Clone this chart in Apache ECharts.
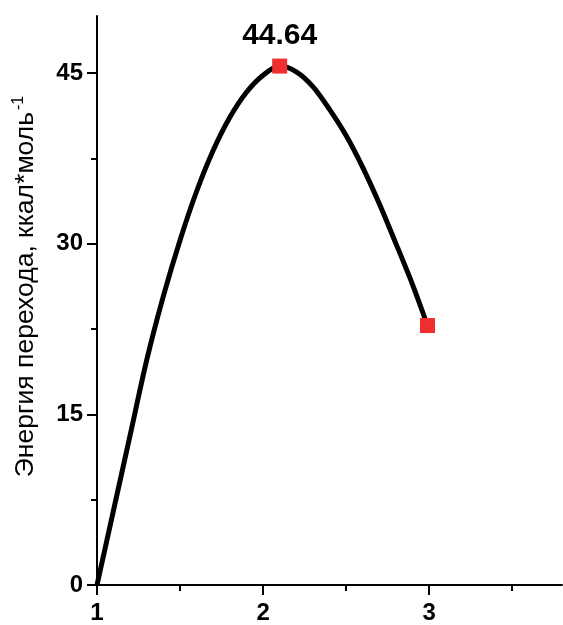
<!DOCTYPE html>
<html>
<head>
<meta charset="utf-8">
<script src="https://cdn.jsdelivr.net/npm/echarts@6/dist/echarts.min.js"></script>
<style>
html,body{margin:0;padding:0;background:#fff;}
#chart{width:563px;height:625px;}
</style>
</head>
<body>
<div id="chart"></div>
<script>
// Curve
var curveX = [1.0, 1.1, 1.2, 1.3, 1.4, 1.5, 1.6, 1.7, 1.8, 1.9, 2.0, 2.1, 2.2, 2.3, 2.4, 2.5, 2.6, 2.7, 2.8, 2.9, 2.99];
var curveY = [0.0, 6.6, 13.2, 19.8, 25.4, 30.3, 34.6, 38.2, 41.1, 43.3, 44.8, 45.6, 45.1, 43.8, 41.8, 39.5, 36.7, 33.5, 30.0, 26.4, 22.8];
// Red square markers
var markerX = [2.10, 2.99];
var markerY = [45.6, 22.8];
var markerLabels = ['44.64', ''];
// Axis ticks
var xMajor = [1, 2, 3];
var xMinor = [1.5, 2.5, 3.5];
var yMajor = [0, 15, 30, 45];
var yMinor = [7.5, 22.5, 37.5];
var yTitle = 'Энергия перехода, ккал*моль';
var yTitleSup = '-1';

var FONT = '"Liberation Sans", Arial, sans-serif';
var curve = curveX.map(function(x, i){ return [x, curveY[i]]; });
var markers = markerX.map(function(x, i){ return {value:[x, markerY[i]], lbl: markerLabels[i]}; });

var chart = echarts.init(document.getElementById('chart'), null, {renderer:'canvas'});
var axisCommon = {
  type: 'value', splitLine: {show:false}
};
chart.setOption({
  animation: false,
  backgroundColor: '#fff',
  grid: {left: 97, right: 1, top: 16, bottom: 40, containLabel: false, outerBoundsMode: 'none'},
  xAxis: [
    Object.assign({}, axisCommon, {
      min: 1, max: 3.8, position: 'bottom',
      axisLine: {show: true, onZero: false, lineStyle: {color:'#000', width: 2}},
      axisTick: {show: true, customValues: xMajor, length: 10, lineStyle: {color:'#000', width: 2}},
      axisLabel: {customValues: xMajor, margin: 16, color:'#000', fontFamily: FONT, fontWeight:'bold', fontSize: 24}
    }),
    Object.assign({}, axisCommon, {
      min: 1, max: 3.8, position: 'top', offset: -569,
      axisLine: {show: false, onZero: false},
      axisTick: {show: true, inside: true, customValues: xMinor, length: 6, lineStyle: {color:'#000', width: 2}},
      axisLabel: {show: false}
    })
  ],
  yAxis: [
    Object.assign({}, axisCommon, {
      min: 0, max: 50, position: 'left',
      axisLine: {show: true, onZero: false, lineStyle: {color:'#000', width: 2}},
      axisTick: {show: true, customValues: yMajor, length: 10, lineStyle: {color:'#000', width: 2}},
      axisLabel: {customValues: yMajor, margin: 14, color:'#000', fontFamily: FONT, fontWeight:'bold', fontSize: 24},
      name: '{t|' + yTitle + '}{s|' + yTitleSup + '}',
      nameLocation: 'middle', nameRotate: 90, nameGap: 56, nameMoveOverlap: false,
      nameTextStyle: {
        color:'#000',
        rich: {
          t: {fontFamily: FONT, fontSize: 26.5, color:'#000', lineHeight: 30, padding:[0,0,0,28]},
          s: {fontFamily: FONT, fontSize: 16, color:'#000', verticalAlign: 'top', lineHeight: 30, padding:[0,0,0,2]}
        }
      }
    }),
    Object.assign({}, axisCommon, {
      min: 0, max: 50, position: 'right', offset: -465,
      axisLine: {show: false, onZero: false},
      axisTick: {show: true, inside: true, customValues: yMinor, length: 6, lineStyle: {color:'#000', width: 2}},
      axisLabel: {show: false}
    })
  ],
  series: [
    {
      type: 'line', xAxisIndex: 0, yAxisIndex: 0,
      data: curve, smooth: 0.3, showSymbol: false, symbol: 'none',
      lineStyle: {color:'#000', width: 5}, z: 2
    },
    {
      type: 'scatter', xAxisIndex: 0, yAxisIndex: 0,
      data: markers, symbol: 'rect', symbolSize: 15,
      itemStyle: {color: '#ef2f2f', opacity: 1}, z: 3,
      label: {
        show: true, position: 'top', distance: 8, opacity: 1,
        formatter: function(p){ return p.data.lbl; },
        color:'#000', fontFamily: FONT, fontWeight:'bold', fontSize: 30
      }
    }
  ]
});
</script>
</body>
</html>
